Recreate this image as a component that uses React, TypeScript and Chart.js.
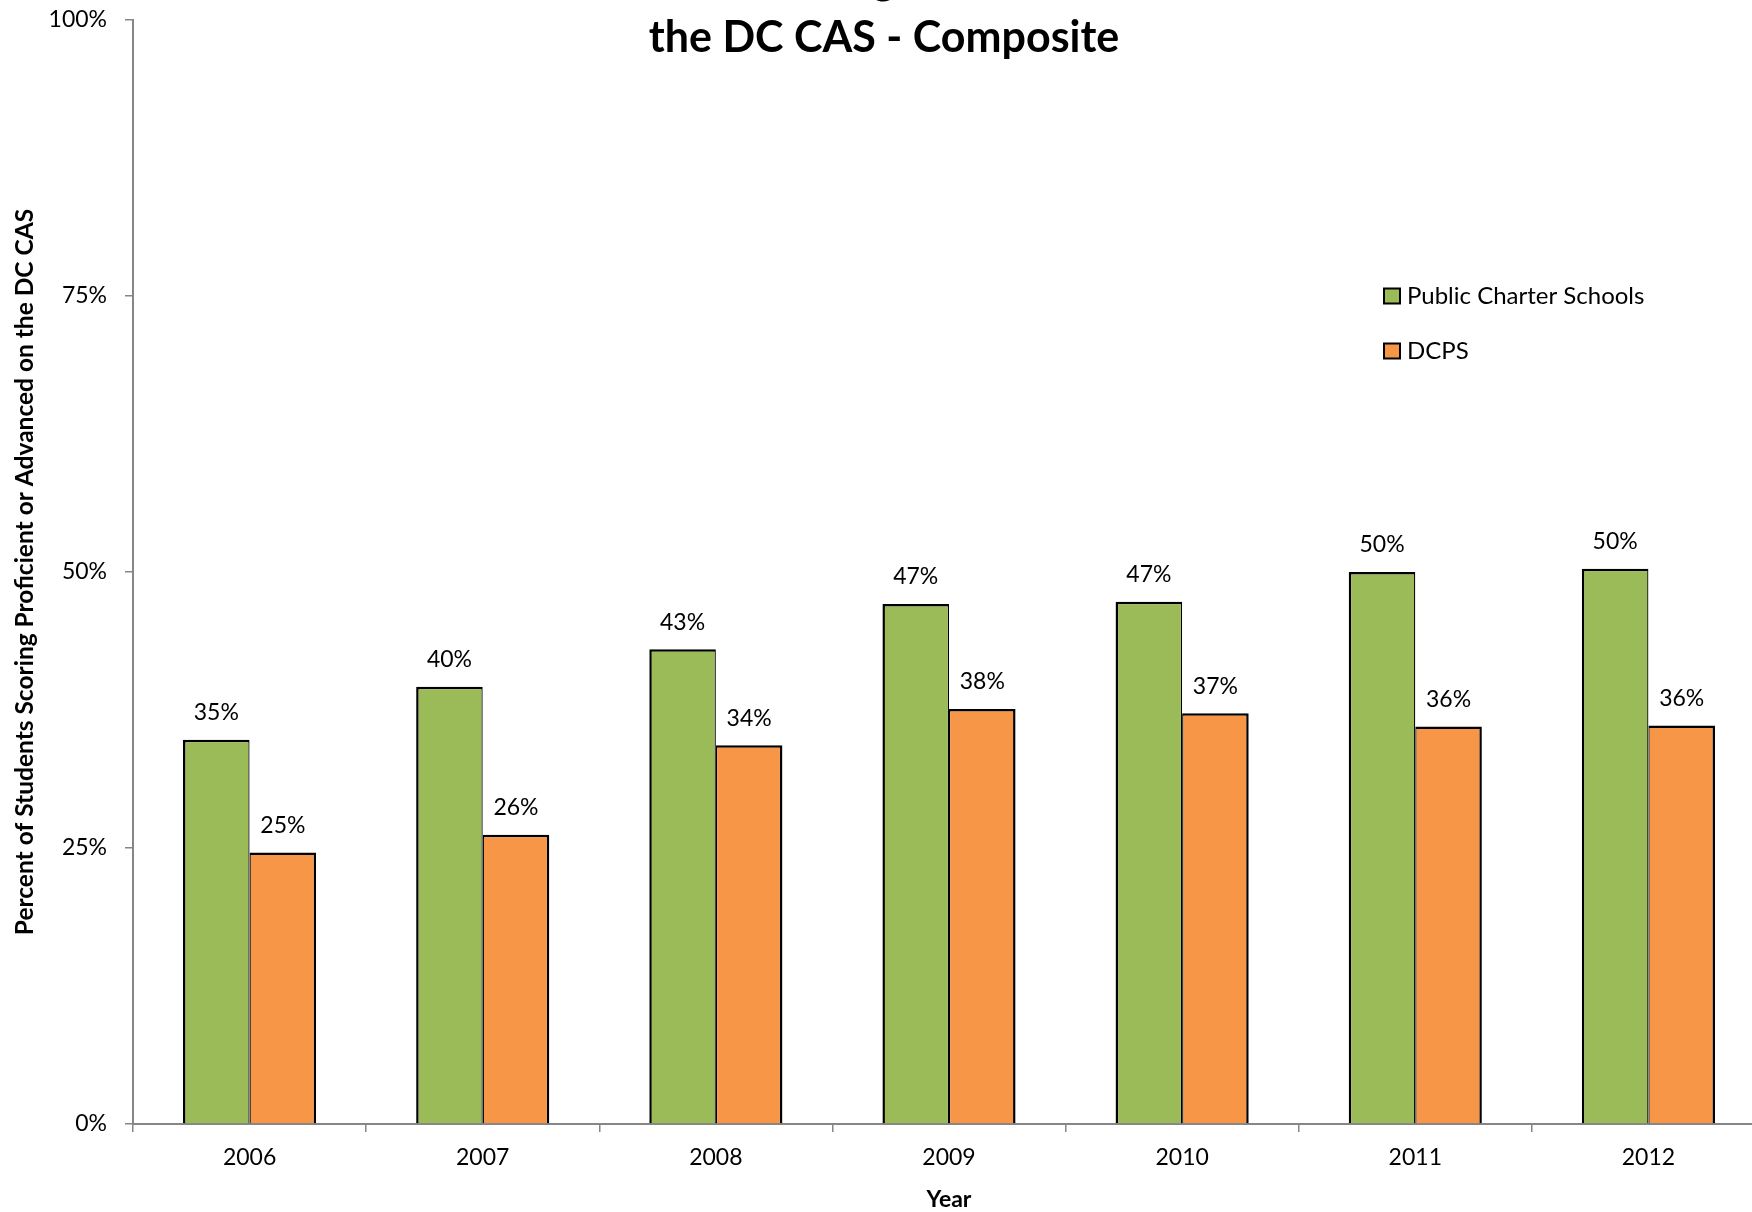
import React, { useEffect, useRef } from "react";
import { Chart, registerables } from "chart.js";

Chart.register(...registerables);

const years = ["2006", "2007", "2008", "2009", "2010", "2011", "2012"];
const charterValues = [34.8, 39.6, 43.0, 47.1, 47.3, 50.0, 50.3];
const dcpsValues = [24.6, 26.2, 34.3, 37.6, 37.2, 36.0, 36.1];
const yTickValues = [0, 25, 50, 75, 100];
const seriesNames = ["Public Charter Schools", "DCPS"];
const seriesColors = ["#9BBB59", "#F79646"];
const titleLines = [
  "Percent of Students Scoring Proficient or Advanced on",
  "the DC CAS - Composite",
];
const yAxisTitle = "Percent of Students Scoring Proficient or Advanced on the DC CAS";
const xAxisTitle = "Year";

const FONT = "Lato, 'Open Sans', sans-serif";
const AXIS_GRAY = "#868686";

const titlePlugin = {
  id: "overlayTitle",
  afterDraw(chart: any) {
    const ctx = chart.ctx;
    ctx.save();
    ctx.font = `bold 43px ${FONT}`;
    ctx.fillStyle = "#000";
    ctx.textAlign = "center";
    ctx.textBaseline = "alphabetic";
    const cx = chart.width / 2;
    const lastBaseline = 52;
    const step = 58;
    const n = titleLines.length;
    titleLines.forEach((line, i) => {
      ctx.fillText(line, cx, lastBaseline - (n - 1 - i) * step);
    });
    ctx.restore();
  },
};

const valueLabelPlugin = {
  id: "valueLabels",
  afterDatasetsDraw(chart: any) {
    const ctx = chart.ctx;
    ctx.save();
    ctx.font = `23px ${FONT}`;
    ctx.fillStyle = "#000";
    ctx.textAlign = "center";
    ctx.textBaseline = "middle";
    chart.data.datasets.forEach((ds: any, i: number) => {
      const meta = chart.getDatasetMeta(i);
      meta.data.forEach((bar: any, j: number) => {
        const v = ds.data[j];
        ctx.fillText(`${Math.round(v)}%`, bar.x, bar.y - 27);
      });
    });
    ctx.restore();
  },
};

const legendPlugin = {
  id: "customLegend",
  afterDraw(chart: any) {
    const ctx = chart.ctx;
    ctx.save();
    const x0 = 1384;
    const y0 = 296;
    const gap = 55;
    ctx.font = `24px ${FONT}`;
    ctx.textAlign = "left";
    ctx.textBaseline = "middle";
    chart.data.datasets.forEach((ds: any, i: number) => {
      const cy = y0 + i * gap;
      ctx.fillStyle = ds.backgroundColor;
      ctx.fillRect(x0, cy - 7.5, 16, 15);
      ctx.strokeStyle = "#000";
      ctx.lineWidth = 2;
      ctx.strokeRect(x0, cy - 7.5, 16, 15);
      ctx.fillStyle = "#000";
      ctx.fillText(ds.label, x0 + 23, cy);
    });
    ctx.restore();
  },
};

export default function App() {
  const ref = useRef<HTMLCanvasElement>(null);

  useEffect(() => {
    if (!ref.current) return;
    const chart = new Chart(ref.current, {
      type: "bar",
      data: {
        labels: years,
        datasets: [
          {
            label: seriesNames[0],
            data: charterValues,
            backgroundColor: seriesColors[0],
            borderColor: "#000",
            borderWidth: { top: 2.5, left: 2.5, right: 1.25, bottom: 0 },
            categoryPercentage: 0.571,
            barPercentage: 1,
          },
          {
            label: seriesNames[1],
            data: dcpsValues,
            backgroundColor: seriesColors[1],
            borderColor: "#000",
            borderWidth: { top: 2.5, left: 1.25, right: 2.5, bottom: 0 },
            categoryPercentage: 0.571,
            barPercentage: 1,
          },
        ],
      },
      options: {
        responsive: false,
        animation: false,
        devicePixelRatio: 1,
        layout: { padding: { top: 20, left: 0, right: 3, bottom: 0 } },
        plugins: {
          legend: { display: false },
          title: { display: false },
          tooltip: { enabled: false },
        },
        scales: {
          x: {
            grid: {
              drawOnChartArea: false,
              tickLength: 8,
              color: AXIS_GRAY,
              lineWidth: 1.5,
              offset: true,
            },
            border: { color: AXIS_GRAY, width: 2 },
            ticks: {
              font: { family: FONT, size: 23 },
              color: "#000",
              padding: 12,
              maxRotation: 0,
              autoSkip: false,
            },
            title: {
              display: true,
              text: xAxisTitle,
              color: "#000",
              font: { family: FONT, size: 23, weight: "bold", lineHeight: 1.1 },
              padding: { top: 0, bottom: 0 },
            },
            afterFit: (s: any) => {
              s.height = 88;
              s.paddingLeft = 0;
              s.paddingRight = 0;
            },
          },
          y: {
            min: 0,
            max: 100,
            afterBuildTicks: (s: any) => {
              s.ticks = yTickValues.map((v) => ({ value: v }));
            },
            ticks: {
              callback: (v: any) => `${v}%`,
              font: { family: FONT, size: 23 },
              color: "#000",
              padding: 18,
            },
            grid: {
              drawOnChartArea: false,
              tickLength: 8,
              color: AXIS_GRAY,
              lineWidth: 1.5,
            },
            border: { color: AXIS_GRAY, width: 2 },
            title: {
              display: true,
              text: yAxisTitle,
              color: "#000",
              font: { family: FONT, size: 24.5, weight: "bold" },
              padding: { top: 10, bottom: 0 },
            },
            afterFit: (s: any) => {
              s.width = 133;
              s.paddingTop = 0;
              s.paddingBottom = 0;
            },
          },
        },
      },
      plugins: [valueLabelPlugin, titlePlugin, legendPlugin],
    } as any);
    return () => chart.destroy();
  }, []);

  return (
    <div
      style={{
        position: "fixed",
        left: 0,
        top: 0,
        width: 1752,
        height: 1212,
        overflow: "hidden",
        background: "#fff",
      }}
    >
      <canvas
        ref={ref}
        width={1768}
        height={1212}
        style={{ display: "block", width: 1768, height: 1212 }}
      />
    </div>
  );
}
